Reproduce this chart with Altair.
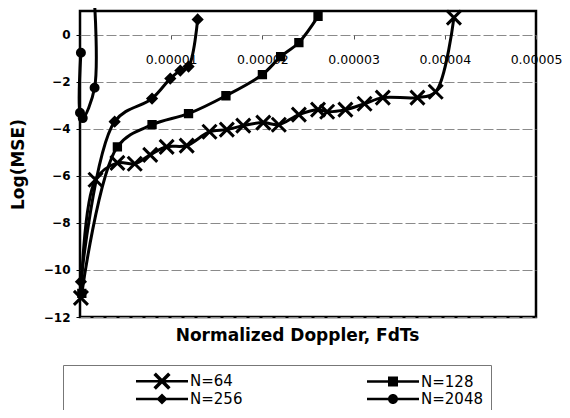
import altair as alt
import pandas as pd

series_names = ["N=64", "N=128", "N=256", "N=2048"]

n64_x = [1e-7, 1.7e-6, 4.1e-6, 6.0e-6, 7.7e-6, 9.5e-6, 1.17e-5, 1.42e-5, 1.61e-5, 1.79e-5,
         2.01e-5, 2.18e-5, 2.40e-5, 2.61e-5, 2.71e-5, 2.91e-5, 3.12e-5, 3.32e-5, 3.70e-5, 3.90e-5, 4.10e-5]
n64_y = [-11.19, -6.17, -5.45, -5.49, -5.11, -4.77, -4.72, -4.13, -4.04, -3.87,
         -3.74, -3.83, -3.40, -3.19, -3.28, -3.19, -2.94, -2.68, -2.68, -2.43, 0.72]

n128_x = [2e-7, 4.1e-6, 7.9e-6, 1.19e-5, 1.60e-5, 2.00e-5, 2.20e-5, 2.40e-5, 2.61e-5]
n128_y = [-11.0, -4.77, -3.83, -3.36, -2.60, -1.70, -0.94, -0.34, 0.77]

n256_x = [1e-7, 3.8e-6, 7.9e-6, 9.9e-6, 1.10e-5, 1.19e-5, 1.29e-5]
n256_y = [-10.5, -3.70, -2.72, -1.87, -1.53, -1.36, 0.64]

n2048_x = [1e-7, 0.0, 3e-7, 1.6e-6, 1.6e-6]
n2048_y = [-0.77, -3.32, -3.55, -2.26, 1.3]

x_ticks = [0.00001, 0.00002, 0.00003, 0.00004, 0.00005]
y_ticks = [-12, -10, -8, -6, -4, -2, 0]

rows = []
for name, xs, ys in [("N=64", n64_x, n64_y), ("N=128", n128_x, n128_y),
                     ("N=256", n256_x, n256_y), ("N=2048", n2048_x, n2048_y)]:
    for i, (xv, yv) in enumerate(zip(xs, ys)):
        rows.append({"series": name, "x": xv, "y": yv, "idx": i})
df = pd.DataFrame(rows)

marker_shapes = {"N=64": "M-1,-1L1,1M1,-1L-1,1", "N=128": "square", "N=256": "diamond", "N=2048": "circle"}
marker_sizes = {"N=64": 196, "N=128": 40, "N=256": 64, "N=2048": 49}

# legend symbols: unit = 8px (symbolSize 256); line from -1 to 5.5, marker centred at 2.25
LINE = "M-1,-0.16H5.5V0.16H-1Z "
legend_paths = [
    LINE + "M1.175,-0.765L1.485,-1.075L3.325,0.765L3.015,1.075Z "
           "M3.015,-1.075L3.325,-0.765L1.485,1.075L1.175,0.765Z",
    LINE + "M1.625,-0.625H2.875V0.625H1.625Z",
    LINE + "M2.25,-0.7L2.95,0L2.25,0.7L1.55,0Z",
    LINE + "M1.625,0A0.625,0.625 0 1,1 2.875,0A0.625,0.625 0 1,1 1.625,0Z",
]

NBSP = "\u00a0"

x_enc = alt.X("x:Q", scale=alt.Scale(domain=[0, 0.00005], nice=False, zero=False),
              axis=alt.Axis(values=x_ticks, format=".5f", orient="bottom", offset=-282,
                            grid=False, domain=False, ticks=True, tickSize=4, tickColor="#555",
                            labelFont="DejaVu Sans", labelFontSize=12.5, labelColor="black",
                            labelPadding=14, labelFlush=False, labelOverlap=False,
                            title="Normalized Doppler, FdTs", titleFont="DejaVu Sans",
                            titleFontSize=17, titleFontWeight="bold", titleColor="black",
                            titleX=217, titleY=300, titleBaseline="middle"))
y_enc = alt.Y("y:Q", scale=alt.Scale(domain=[-12, 1], nice=False, zero=False),
              axis=alt.Axis(values=y_ticks, grid=True, gridColor="#8a8a8a", gridDash=[10, 3],
                            gridWidth=1, domain=False, ticks=True, tickSize=4, tickColor="black",
                            labelFont="DejaVu Sans", labelFontSize=12, labelFontWeight="bold",
                            labelColor="black", labelPadding=6,
                            title="Log(MSE)", titleFont="DejaVu Sans", titleFontSize=17,
                            titleFontWeight="bold", titleColor="black",
                            titleX=-62, titleY=153, titleBaseline="middle"))

base = alt.Chart(df)

lines = base.mark_line(color="black", strokeWidth=3, interpolate="catmull-rom", clip=False).encode(
    x=x_enc, y=y_enc, detail="series:N", order="idx:Q")

layers = [lines]
for name in series_names:
    layers.append(
        base.transform_filter(f"datum.series == '{name}' && datum.y <= 1.05")
        .mark_point(shape=marker_shapes[name], size=marker_sizes[name], filled=True,
                    fill="black", stroke="black", strokeWidth=3, opacity=1)
        .encode(x="x:Q", y="y:Q")
    )

legend_layer = base.mark_point(filled=True, opacity=0, color="black").encode(
    x="x:Q", y="y:Q",
    shape=alt.Shape("series:N", scale=alt.Scale(domain=series_names, range=legend_paths),
                    legend=alt.Legend(title=" ", titleOrient="left", titlePadding=65, titleFontSize=11,
                                      orient="none", legendX=-17, legendY=354, columns=2,
                                      direction="horizontal",
                                      columnPadding=124, rowPadding=1, symbolSize=256,
                                      symbolFillColor="black", symbolStrokeColor="black",
                                      symbolStrokeWidth=0, symbolOpacity=1,
                                      labelFont="DejaVu Sans", labelFontSize=15, labelColor="black",
                                      labelOffset=38, labelExpr=f"datum.label + '{NBSP}'",
                                      strokeColor="#777", fillColor="white", padding=8)))
layers.append(legend_layer)

chart = alt.layer(*layers).properties(
    width=456, height=306,
    background="white",
    autosize=alt.AutoSizeParams(type="none"),
    padding={"left": 72, "top": 3, "right": 26, "bottom": 93},
).configure_view(stroke="black", strokeWidth=2.5)

chart.save("out.html", embed_options={"renderer": "svg", "actions": False})
